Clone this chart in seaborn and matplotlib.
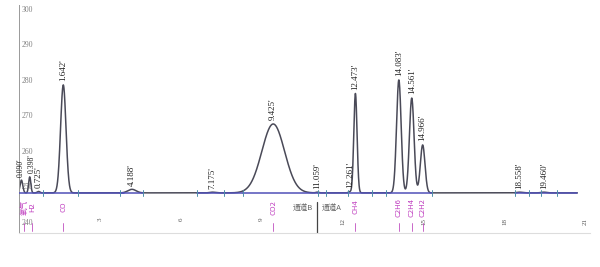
import numpy as np
import pandas as pd
import matplotlib
matplotlib.use("Agg")
import matplotlib.pyplot as plt
import seaborn as sns

# ---- data ----
peak_times = [0.090, 0.398, 0.725, 1.642, 4.188, 7.175, 9.425, 11.059, 12.261,
              12.473, 14.083, 14.561, 14.966, 18.558, 19.460]
peak_heights = [3.6, 4.5, 0.4, 30.4, 1.0, 0.2, 19.4, 0.2, 0.3,
                28.0, 31.8, 26.7, 13.5, 0.2, 0.2]
peak_sigmas = [0.05, 0.04, 0.05, 0.10, 0.15, 0.10, 0.42, 0.05, 0.05,
               0.06, 0.085, 0.085, 0.085, 0.10, 0.10]
peak_labels = ["0.090'", "0.398'", "0.725'", "1.642'", "4.188'", "7.175'", "9.425'",
               "11.059'", "12.261'", "12.473'", "14.083'", "14.561'", "14.966'",
               "18.558'", "19.460'"]
baseline_level = 248.2
run_end = 20.7

comp_names = ["氧气", "H2", "CO", "CO2", "CH4", "C2H6", "C2H4", "C2H2"]
comp_times = [0.20, 0.50, 1.642, 9.425, 12.473, 14.083, 14.561, 14.966]

marker_times = [0.9, 2.2, 3.75, 4.6, 6.6, 7.6, 8.3, 11.1, 11.4, 12.2, 13.1,
                13.6, 15.3, 18.4, 18.9, 19.35, 19.95]
blue_segments = [(0.0, 3.9), (3.75, 4.6), (6.6, 8.3), (8.3, 11.1), (11.1, 12.2),
                 (12.2, 13.6), (13.6, 15.3), (18.4, 20.7)]

x_ticks = [3, 6, 9, 12, 15, 18, 21]
y_ticks = [240, 250, 260, 270, 280, 290, 300]
channel_split = 11.06

# ---- build trace from peak table ----
t = np.linspace(0, run_end, 4000)
sig = np.full_like(t, baseline_level)
for tt, h, s in zip(peak_times, peak_heights, peak_sigmas):
    sig += h * np.exp(-0.5 * ((t - tt) / s) ** 2)
df = pd.DataFrame({"time": t, "signal": sig})

sns.set_style("white")
plt.rcParams["font.family"] = ["Liberation Serif", "Noto Sans CJK SC", "DejaVu Sans"]

fig = plt.figure(figsize=(6, 2.67), dpi=100)
ax = fig.add_axes([19 / 600, (267 - 233) / 267, (590 - 19) / 600, (233 - 5) / 267])

sns.lineplot(data=df, x="time", y="signal", ax=ax, color="#4a4a58", lw=1.1)
for a, b in blue_segments:
    ax.plot([a, b], [baseline_level, baseline_level], color="#5050b8", lw=1.1, zorder=3)
for m in marker_times:
    ax.plot([m, m], [baseline_level - 0.9, baseline_level + 0.9], color="#4f8fa8", lw=0.7, zorder=4)

# peak labels (the two crowded early labels nudged apart and slightly smaller)
label_shift = {0: -0.04, 1: 0.06}
for i, (tt, h, lab) in enumerate(zip(peak_times, peak_heights, peak_labels)):
    fs = 5.6 if i in label_shift else 6.5
    ax.text(tt + label_shift.get(i, 0.0), baseline_level + h + 1.0, lab, rotation=90,
            ha="center", va="bottom", fontsize=fs, color="#222222")

# component names
for ct, name in zip(comp_times, comp_names):
    ax.text(ct, 244.2, name, rotation=90, ha="center", va="center", fontsize=5.5,
            color="#c040c0", family=["Noto Sans CJK SC", "DejaVu Sans"])
    ax.plot([ct, ct], [237.6, 239.6], color="#c050c0", lw=0.6)

# channel divider
ax.plot([channel_split, channel_split], [237.0, 245.5], color="#444444", lw=0.9)
ax.text(channel_split - 0.15, 244.0, "通道B", ha="right", va="center", fontsize=5.5,
        color="#666666", family=["Noto Sans CJK SC", "DejaVu Sans"])
ax.text(channel_split + 0.15, 244.0, "通道A", ha="left", va="center", fontsize=5.5,
        color="#666666", family=["Noto Sans CJK SC", "DejaVu Sans"])

ax.set_xlim(0, 21.17)
ax.set_ylim(236.9, 301.1)
ax.set_xticks(x_ticks)
ax.set_xticklabels([str(v) for v in x_ticks], rotation=90)
ax.set_yticks(y_ticks)
ax.tick_params(axis="x", direction="in", length=0, pad=-11, labelsize=5, labelcolor="#555555")
ax.tick_params(axis="y", direction="in", length=2, width=0.6, pad=-10, labelsize=5.5,
               labelcolor="#808080", color="#555555")
ax.set_xlabel("")
ax.set_ylabel("")
for s in ["top", "right"]:
    ax.spines[s].set_visible(False)
ax.spines["left"].set_color("#999999")
ax.spines["left"].set_linewidth(0.7)
ax.spines["bottom"].set_color("#dddddd")
ax.spines["bottom"].set_linewidth(0.8)

fig.savefig("out.png", dpi=100)
